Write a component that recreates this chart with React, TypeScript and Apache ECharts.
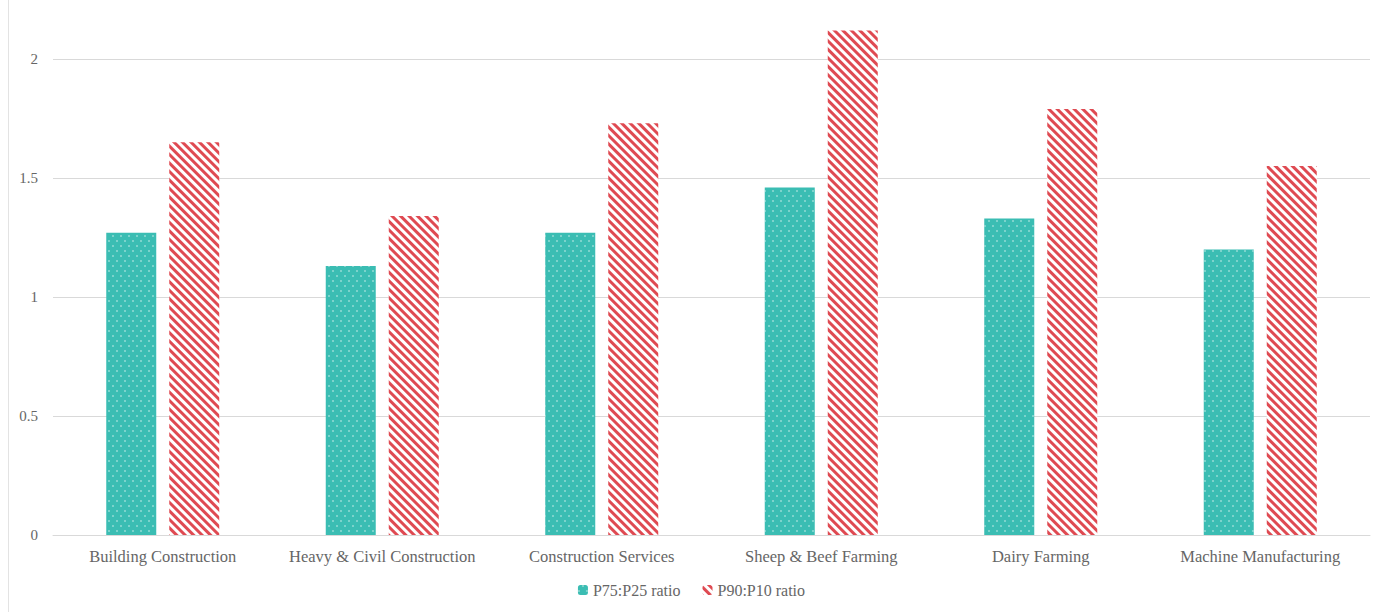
import React, { useEffect, useRef } from "react";
import * as echarts from "echarts";

const categories = [
  "Building Construction",
  "Heavy & Civil Construction",
  "Construction Services",
  "Sheep & Beef Farming",
  "Dairy Farming",
  "Machine Manufacturing",
];
const p75p25 = [1.27, 1.13, 1.27, 1.46, 1.33, 1.2];
const p90p10 = [1.65, 1.34, 1.73, 2.12, 1.79, 1.55];
const seriesNames = ["P75:P25 ratio", "P90:P10 ratio"];

const FONT = "'Liberation Serif', 'DejaVu Serif', serif";
const TEAL = "#3bbdb3";
const RED = "#df4a52";

export default function App() {
  const ref = useRef<HTMLDivElement>(null);
  useEffect(() => {
    if (!ref.current) return;
    const chart = echarts.init(ref.current, undefined, { renderer: "svg" });
    chart.setOption({
      animation: false,
      aria: { enabled: true, decal: { show: true } },
      textStyle: { fontFamily: FONT },
      grid: { left: 53, right: 13, top: 11.4, bottom: 77, containLabel: false },
      graphic: [
        {
          type: "line",
          shape: { x1: 8.5, y1: 0, x2: 8.5, y2: 612 },
          style: { stroke: "#e3e3e3", lineWidth: 1 },
        },
      ],
      legend: {
        bottom: 9,
        left: "center",
        itemWidth: 10,
        itemHeight: 10,
        itemGap: 22,
        textStyle: { color: "#666666", fontSize: 16, fontFamily: FONT },
        data: seriesNames,
      },
      xAxis: {
        type: "category",
        data: categories,
        axisLine: { lineStyle: { color: "#d9d9d9" } },
        axisTick: { show: false },
        axisLabel: { color: "#666666", fontSize: 16.5, margin: 13, interval: 0, fontFamily: FONT },
      },
      yAxis: {
        type: "value",
        min: 0,
        max: 2.2,
        interval: 0.5,
        axisLine: { show: false },
        axisTick: { show: false },
        axisLabel: {
          color: "#666666",
          fontSize: 15,
          margin: 15,
          fontFamily: FONT,
          formatter: (v: number) => (Math.abs(v - 2.2) < 1e-6 ? "" : String(v)),
        },
        splitLine: {
          lineStyle: {
            color: ["#d9d9d9", "#d9d9d9", "#d9d9d9", "#d9d9d9", "#d9d9d9", "rgba(0,0,0,0)"],
          },
        },
      },
      series: [
        {
          name: seriesNames[0],
          type: "bar",
          data: p75p25,
          barWidth: 50,
          barGap: "26%",
          itemStyle: {
            color: TEAL,
            decal: {
              symbol: "rect",
              symbolSize: 0.8,
              color: "rgba(255,255,255,0.55)",
              dashArrayX: [
                [2, 6],
                [0, 4, 2, 2],
              ],
              dashArrayY: [2, 3],
              rotation: 0,
            },
          },
        },
        {
          name: seriesNames[1],
          type: "bar",
          data: p90p10,
          barWidth: 50,
          itemStyle: {
            color: "#ffffff",
            decal: {
              symbol: "rect",
              symbolSize: 1,
              color: RED,
              dashArrayX: [1, 0],
              dashArrayY: [3, 3],
              rotation: Math.PI / 4,
            },
          },
        },
      ],
    });
    return () => chart.dispose();
  }, []);
  return (
    <div
      ref={ref}
      style={{ position: "absolute", left: 0, top: 0, width: 1383, height: 612, background: "#fff" }}
    />
  );
}
